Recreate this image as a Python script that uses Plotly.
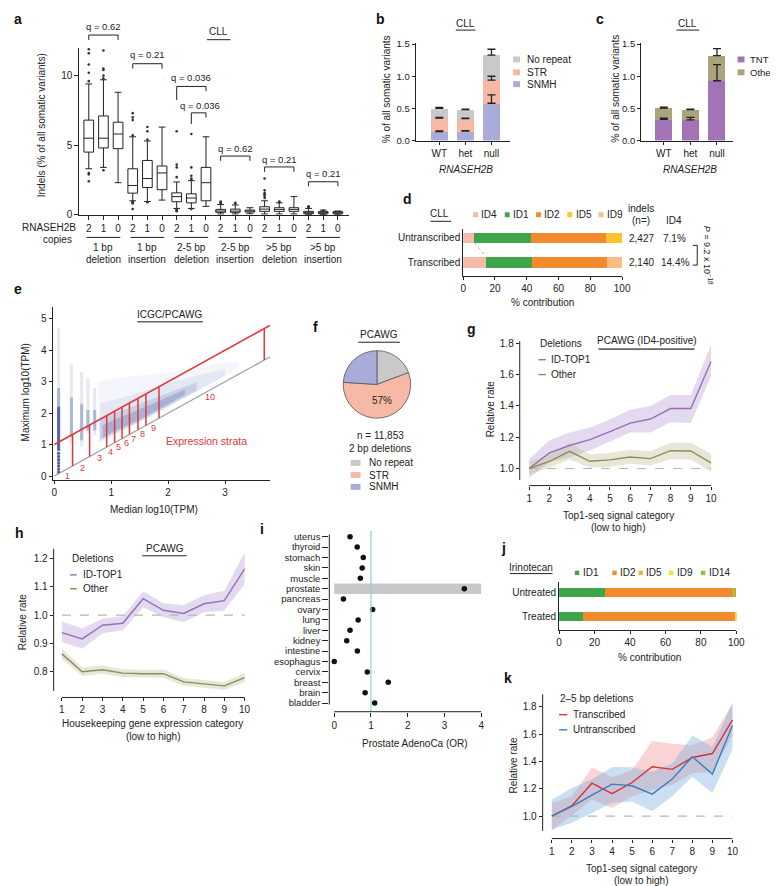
import plotly.graph_objects as go

W, H = 778, 886
FONT = "Liberation Sans, Arial, Helvetica, sans-serif"
INK = "#222222"

# ================= DATA =================
# (a) indel boxplots, CLL
a_copies = ["2", "1", "0"]
a_group_top = ["1 bp", "1 bp", "2-5 bp", "2-5 bp", "&gt;5 bp", "&gt;5 bp"]
a_group_bottom = ["deletion", "insertion", "deletion", "insertion", "deletion", "insertion"]
a_q1 = [4.5, 4.8, 4.75, 1.55, 1.95, 1.8, 0.93, 0.85, 1.0, 0.17, 0.17, 0.19, 0.24, 0.24, 0.24, 0.07, 0.07, 0.07]
a_median = [5.5, 5.5, 5.8, 2.1, 2.6, 3.0, 1.3, 1.2, 2.3, 0.26, 0.26, 0.26, 0.40, 0.38, 0.38, 0.14, 0.14, 0.14]
a_q3 = [6.8, 7.1, 6.65, 3.3, 3.9, 3.5, 1.57, 1.5, 3.4, 0.38, 0.40, 0.33, 0.57, 0.50, 0.50, 0.24, 0.22, 0.22]
a_lowerfence = [3.3, 3.4, 2.3, 1.0, 0.95, 1.05, 0.45, 0.45, 0.6, 0.05, 0.05, 0.07, 0.05, 0.05, 0.05, 0.01, 0.01, 0.02]
a_upperfence = [9.4, 9.7, 8.8, 5.6, 5.3, 6.3, 2.35, 2.45, 5.6, 0.73, 0.70, 0.50, 1.0, 0.85, 1.3, 0.45, 0.33, 0.26]
a_outlier_box = [0, 0, 0, 0, 0, 0, 0, 0,
                 1, 1, 1, 1, 1, 1,
                 3, 3, 3, 3, 3, 3, 3, 3, 3,
                 4, 4, 4, 4,
                 6, 6, 6, 6, 6, 6, 6, 6,
                 7, 7, 7, 7, 7, 7,
                 9, 9, 9, 10, 10,
                 12, 12, 12, 12, 12, 12, 13, 13,
                 15, 15, 15, 16]
a_outlier_val = [9.6, 10.2, 10.8, 11.6, 11.9, 3.0, 2.9, 2.4,
                 9.8, 10.0, 10.4, 10.5, 11.8, 3.2,
                 5.7, 6.8, 7.0, 7.3, 0.95, 0.9, 0.85, 0.8, 0.4,
                 5.4, 6.0, 6.3, 0.9,
                 2.7, 3.4, 3.6, 6.0, 0.4, 0.35, 0.3, 0.25,
                 2.5, 2.6, 2.8, 3.4, 5.8, 0.4,
                 0.8, 0.85, 0.95, 0.8, 0.85,
                 1.2, 1.35, 1.45, 1.55, 1.75, 2.6, 0.9, 0.95,
                 0.5, 0.55, 0.6, 0.3]
a_q_text = ["q = 0.62", "q = 0.21", "q = 0.036", "q = 0.036", "q = 0.62", "q = 0.21", "q = 0.21"]

# (b) repeat context, CLL
b_geno = ["WT", "het", "null"]
b_snmh = [0.14, 0.145, 0.58]
b_str = [0.21, 0.195, 0.36]
b_norep = [0.15, 0.14, 0.39]
b_snmh_err = [0.01, 0.01, 0.13]
b_str_err = [0.01, 0.01, 0.06]
b_norep_err = [0.015, 0.01, 0.09]

# (c) TNT, CLL
c_tnt = [0.33, 0.32, 0.93]
c_other = [0.175, 0.16, 0.39]
c_tnt_err = [0.02, 0.04, 0.25]
c_other_err = [0.015, 0.01, 0.11]

# (d) signature contributions, CLL
d_rows = ["Transcribed", "Untranscribed"]
d_sigs = ["ID4", "ID1", "ID2", "ID5", "ID9"]
d_untranscribed = [7.1, 35.5, 47.5, 9.9, 0.0]
d_transcribed = [14.4, 29.0, 47.1, 0.0, 9.5]
d_n = ["2,140", "2,427"]
d_id4 = ["14.4%", "7.1%"]

# (e) expression strata, ICGC/PCAWG  (hand-read outline of the point cloud)
e_streak_x = [0.075, 0.30, 0.48, 0.59, 0.71]
e_streak_lo = [0.05, 1.04, 0.93, 1.35, 1.30]
e_streak_hi = [4.70, 3.55, 3.30, 3.10, 2.80]
e_core_lo = [0.80, 1.25, 1.14, 1.45, 1.45]
e_core_hi = [2.80, 2.50, 2.30, 2.10, 2.10]
e_dots_y = [0.12, 0.22, 0.32, 0.42, 0.52, 0.62, 0.72]
e_halo_x = [0.78, 1.00, 1.50, 2.00, 2.50, 3.00, 3.25]
e_halo_lo = [1.05, 1.22, 1.70, 2.18, 2.68, 3.18, 3.48]
e_halo_hi = [3.00, 3.10, 3.20, 3.30, 3.45, 3.62, 3.62]
e_mid_x = [0.80, 1.00, 1.50, 2.00, 2.50, 3.00]
e_mid_lo = [1.10, 1.27, 1.72, 2.20, 2.70, 3.20]
e_mid_hi = [2.30, 2.40, 2.65, 2.95, 3.20, 3.40]
e_dense_x = [0.80, 1.00, 1.50, 2.00, 2.50]
e_dense_lo = [1.15, 1.32, 1.74, 2.22, 2.72]
e_dense_hi = [1.85, 1.95, 2.30, 2.65, 2.98]
e_core_x = [0.85, 1.00, 1.50, 2.00, 2.30]
e_corepoly_lo = [1.22, 1.38, 1.80, 2.28, 2.60]
e_corepoly_hi = [1.60, 1.75, 2.12, 2.50, 2.75]
e_diag_x = [0.0, 3.8]
e_bounds = [0.32, 0.62, 0.92, 1.06, 1.19, 1.32, 1.47, 1.61, 1.84, 3.69]
e_strata_x = [0.23, 0.49, 0.79, 0.99, 1.13, 1.27, 1.40, 1.55, 1.74, 2.73]
e_strata_lab = ["1", "2", "3", "4", "5", "6", "7", "8", "9", "10"]

# (f) pie, PCAWG
f_labels = ["No repeat", "STR", "SNMH"]
f_values = [19.3, 56.7, 24.0]

# (g) Top1-seq, PCAWG ID4-positive
cat_x = [1, 2, 3, 4, 5, 6, 7, 8, 9, 10]
g_top1 = [1.00, 1.10, 1.147, 1.185, 1.236, 1.29, 1.316, 1.383, 1.383, 1.684]
g_top1_lo = [0.94, 1.04, 1.07, 1.115, 1.17, 1.23, 1.23, 1.295, 1.29, 1.59]
g_top1_hi = [1.06, 1.18, 1.23, 1.26, 1.315, 1.375, 1.40, 1.47, 1.47, 1.79]
g_other = [1.00, 1.046, 1.11, 1.046, 1.055, 1.074, 1.063, 1.114, 1.112, 1.036]
g_other_lo = [0.96, 1.005, 1.06, 1.005, 1.01, 1.03, 1.02, 1.06, 1.058, 0.98]
g_other_hi = [1.04, 1.09, 1.165, 1.09, 1.10, 1.12, 1.11, 1.165, 1.165, 1.095]

# (h) housekeeping expression, PCAWG
h_top1 = [0.938, 0.916, 0.964, 0.971, 1.058, 1.017, 1.006, 1.040, 1.051, 1.163]
h_top1_lo = [0.905, 0.881, 0.936, 0.946, 1.028, 0.992, 0.975, 1.010, 1.016, 1.110]
h_top1_hi = [0.977, 0.953, 0.988, 0.996, 1.084, 1.042, 1.035, 1.070, 1.086, 1.221]
h_other = [0.863, 0.800, 0.807, 0.795, 0.793, 0.793, 0.764, 0.758, 0.750, 0.779]
h_other_lo = [0.845, 0.785, 0.793, 0.781, 0.779, 0.779, 0.750, 0.744, 0.736, 0.763]
h_other_hi = [0.881, 0.815, 0.822, 0.809, 0.807, 0.807, 0.778, 0.772, 0.764, 0.795]

# (i) odds ratios
i_tissues = ["uterus", "thyroid", "stomach", "skin", "muscle", "prostate", "pancreas", "ovary", "lung",
             "liver", "kidney", "intestine", "esophagus", "cervix", "breast", "brain", "bladder"]
i_or = [0.43, 0.625, 0.79, 0.76, 0.71, 3.54, 0.25, 1.045, 0.65, 0.43, 0.34, 0.63, 0.0, 0.90, 1.47, 0.84, 1.10]

# (j) irinotecan
j_rows = ["Treated", "Untreated"]
j_sigs = ["ID1", "ID2", "ID5", "ID9", "ID14"]
j_untreated = [25.9, 72.6, 0.4, 0.3, 0.8]
j_treated = [13.5, 85.9, 0.3, 0.2, 0.1]

# (k) 2-5 bp deletions
k_tx = [1.0, 1.077, 1.241, 1.164, 1.246, 1.361, 1.342, 1.429, 1.458, 1.704]
k_tx_lo = [0.899, 1.005, 1.12, 1.06, 1.145, 1.19, 1.23, 1.313, 1.325, 1.59]
k_tx_hi = [1.096, 1.145, 1.357, 1.284, 1.337, 1.55, 1.53, 1.518, 1.578, 1.82]
k_untx = [1.0, 1.072, 1.154, 1.234, 1.222, 1.161, 1.272, 1.434, 1.308, 1.663]
k_untx_lo = [0.90, 0.952, 1.024, 1.096, 1.108, 1.036, 1.145, 1.289, 1.169, 1.487]
k_untx_hi = [1.12, 1.205, 1.27, 1.36, 1.357, 1.325, 1.386, 1.59, 1.506, 1.83]

# ================= STYLE / HELPERS =================
C_NOREP, C_STR, C_SNMH = "#c9c9c9", "#f6b9a5", "#a9abd8"
C_TNT, C_OTHER = "#a274b6", "#a9a47c"
SIG_COL = {"ID4": "#f7b9a8", "ID1": "#3ea54a", "ID2": "#f28a2e", "ID5": "#fcc22f", "ID9": "#fbbd83"}
J_COL = {"ID1": "#3ea54a", "ID2": "#f28a2e", "ID5": "#f8b133", "ID9": "#f2e42a", "ID14": "#8cc63f"}
PURPLE, PURPLE_BAND = "#9471b6", "rgba(178,150,210,0.35)"
OLIVE, OLIVE_BAND = "#8f8a5e", "rgba(185,185,140,0.35)"
RED, RED_BAND = "#d8313c", "rgba(240,125,125,0.33)"
BLUE, BLUE_BAND = "#3b7ebf", "rgba(115,170,220,0.38)"
ERED = "#e0383d"

shapes, annotations = [], []
fig = go.Figure()


def P(xp):
    return xp / W


def Q(yp):
    return 1 - yp / H


def txt(x, y, s, size=10, xa="center", ya="middle", color=INK, angle=0, xref="paper", yref="paper"):
    annotations.append(dict(x=P(x) if xref == "paper" else x, y=Q(y) if yref == "paper" else y,
                            xref=xref, yref=yref, text=s, showarrow=False, textangle=angle,
                            font=dict(family=FONT, size=size, color=color), xanchor=xa, yanchor=ya))


def line(x0, y0, x1, y1, color=INK, width=1, dash="solid", xref="paper", yref="paper", layer="above"):
    shapes.append(dict(type="line", xref=xref, yref=yref, layer=layer,
                       x0=P(x0) if xref == "paper" else x0, x1=P(x1) if xref == "paper" else x1,
                       y0=Q(y0) if yref == "paper" else y0, y1=Q(y1) if yref == "paper" else y1,
                       line=dict(color=color, width=width, dash=dash)))


def rect(x0, y0, x1, y1, color):
    shapes.append(dict(type="rect", xref="paper", yref="paper", x0=P(x0), x1=P(x1), y0=Q(y1), y1=Q(y0),
                       fillcolor=color, line=dict(width=0)))


def leg_sq(x, y, w, h, color, label, tx, size=10):
    rect(x, y - h / 2, x + w, y + h / 2, color)
    txt(tx, y, label, size=size, xa="left")


def leg_line(x0, x1, y, color, label, tx):
    line(x0, y, x1, y, color=color, width=1.4)
    txt(tx, y, label, xa="left")


axes = {}


def setax(n, xdom, xr, ydom, yr, xkw=None, ykw=None):
    xk = "xaxis" if n == 1 else "xaxis%d" % n
    yk = "yaxis" if n == 1 else "yaxis%d" % n
    xid = "x" if n == 1 else "x%d" % n
    yid = "y" if n == 1 else "y%d" % n
    base = dict(showgrid=False, zeroline=False, showline=False, ticks="outside", ticklen=3, tickwidth=1,
                tickcolor=INK, linecolor=INK, linewidth=1, fixedrange=True,
                tickfont=dict(family=FONT, size=10, color=INK))
    xa = dict(base, domain=[P(xdom[0]), P(xdom[1])], range=xr, anchor=yid)
    ya = dict(base, domain=[Q(ydom[1]), Q(ydom[0])], range=yr, anchor=xid)
    xa.update(xkw or {})
    ya.update(ykw or {})
    axes[xk] = xa
    axes[yk] = ya
    return xid, yid


def band(xs, lo, hi, color, xid, yid):
    fig.add_trace(go.Scatter(x=xs + xs[::-1], y=hi + lo[::-1], fill="toself", fillcolor=color,
                             line=dict(width=0), mode="lines", xaxis=xid, yaxis=yid, hoverinfo="skip"))


def curve(xs, ys, color, xid, yid, width=1.4, dash="solid"):
    fig.add_trace(go.Scatter(x=xs, y=ys, mode="lines", line=dict(color=color, width=width, dash=dash),
                             xaxis=xid, yaxis=yid, hoverinfo="skip"))


def letter(x, y, s):
    txt(x, y, "<b>%s</b>" % s, size=14, xa="left", color="#111")


# ================= PANEL a =================
xa_, ya_ = setax(1, (69.5, 343), [-0.638, 17.74], (36.2, 205), [0, 12],
                 xkw=dict(showline=True, tickvals=list(range(18)), ticktext=a_copies * 6, ticklen=4),
                 ykw=dict(showline=True, tickvals=[0, 5, 10], ticklen=4))
fig.add_trace(go.Box(x=list(range(18)), q1=a_q1, median=a_median, q3=a_q3, lowerfence=a_lowerfence,
                     upperfence=a_upperfence, width=0.66, whiskerwidth=0.7, boxpoints=False,
                     fillcolor="white", line=dict(color=INK, width=1), xaxis=xa_, yaxis=ya_, hoverinfo="skip"))
fig.add_trace(go.Scatter(x=a_outlier_box, y=a_outlier_val, mode="markers",
                         marker=dict(size=2.6, color="#333"), xaxis=xa_, yaxis=ya_, hoverinfo="skip"))
letter(1, 7, "a")
txt(31, 115, "Indels (% of all somatic variants)", angle=-90)
txt(211, 20, "CLL")
line(199, 28, 223, 28)
brackets = [(0, 2, 23.3, 28.3, 28.3, 1.0, 15.0),
            (3, 5, 52.3, 57.3, 57.3, 4.0, 43.3),
            (6, 8, 75.3, 89.0, 80.0, 7.0, 66.7),
            (7, 8, 102.0, 113.3, 106.7, 7.6, 94.3),
            (9, 11, 145.7, 150.5, 150.5, 10.0, 137.7),
            (12, 14, 156.7, 161.7, 161.7, 13.0, 149.0),
            (15, 17, 171.7, 176.2, 176.2, 16.0, 163.7)]
for (xl, xrt, yb, yl, yr_, tx, ty), qs in zip(brackets, a_q_text):
    line(xl, yb, xrt, yb, xref="x")
    line(xl, yb, xl, yl, xref="x")
    line(xrt, yb, xrt, yr_, xref="x")
    txt(tx, ty, qs, size=9.5, xref="x")
txt(68, 218, "RNASEH2B", xa="right")
txt(64, 230.5, "copies", xa="right")
for g in range(6):
    line(3 * g - 0.15, 228, 3 * g + 2.15, 228, xref="x")
    txt(3 * g + 1, 238.5, a_group_top[g], xref="x")
    txt(3 * g + 1, 250, a_group_bottom[g], xref="x")

# ================= PANEL b =================
tf95 = dict(family=FONT, size=9.5, color=INK)
xb, yb_ = setax(2, (411, 507), [-0.906, 2.717], (31, 130), [0, 1.523],
                xkw=dict(showline=True, tickvals=[0, 1, 2], ticktext=b_geno),
                ykw=dict(showline=True, tickvals=[0, 0.5, 1.0, 1.5], ticktext=["0.0", "0.5", "1.0", "1.5"],
                         tickfont=tf95))
cum = [0.0, 0.0, 0.0]
err_tops, err_vals = [], []
for vals, errs, col in [(b_snmh, b_snmh_err, C_SNMH), (b_str, b_str_err, C_STR), (b_norep, b_norep_err, C_NOREP)]:
    fig.add_trace(go.Bar(x=[0, 1, 2], y=vals, width=0.64, marker=dict(color=col, line=dict(width=0)),
                         xaxis=xb, yaxis=yb_, hoverinfo="skip"))
    cum = [c + v for c, v in zip(cum, vals)]
    err_tops.append(list(cum))
    err_vals.append(errs)
for tops, errs in zip(err_tops, err_vals):
    fig.add_trace(go.Scatter(x=[0, 1, 2], y=tops, mode="markers", marker=dict(size=1, color="rgba(0,0,0,0)"),
                             error_y=dict(type="data", array=errs, arrayminus=[0, 0, 0], symmetric=False,
                                          color=INK, thickness=1.3, width=4),
                             xaxis=xb, yaxis=yb_, hoverinfo="skip"))
letter(369, 7, "b")
txt(462, 11.7, "CLL")
line(451.7, 18.3, 471.7, 18.3)
txt(381, 78, "% of all somatic variants", angle=-90)
txt(462, 159, "<i>RNASEH2B</i>")
for lab, col, yy in [("No repeat", C_NOREP, 48), ("STR", C_STR, 61), ("SNMH", C_SNMH, 73)]:
    leg_sq(510, yy, 7, 6, col, lab, 522)

# ================= PANEL c =================
xc, yc = setax(3, (640, 733), [-0.85, 2.59], (31, 130), [0, 1.523],
               xkw=dict(showline=True, tickvals=[0, 1, 2], ticktext=b_geno),
               ykw=dict(showline=True, tickvals=[0, 0.5, 1.0, 1.5], ticktext=["0.0", "0.5", "1.0", "1.5"],
                        tickfont=tf95))
cum = [0.0, 0.0, 0.0]
err_tops, err_vals = [], []
for vals, errs, col in [(c_tnt, c_tnt_err, C_TNT), (c_other, c_other_err, C_OTHER)]:
    fig.add_trace(go.Bar(x=[0, 1, 2], y=vals, width=0.64, marker=dict(color=col, line=dict(width=0)),
                         xaxis=xc, yaxis=yc, hoverinfo="skip"))
    cum = [c + v for c, v in zip(cum, vals)]
    err_tops.append(list(cum))
    err_vals.append(errs)
for tops, errs in zip(err_tops, err_vals):
    fig.add_trace(go.Scatter(x=[0, 1, 2], y=tops, mode="markers", marker=dict(size=1, color="rgba(0,0,0,0)"),
                             error_y=dict(type="data", array=errs, arrayminus=[0, 0, 0], symmetric=False,
                                          color=INK, thickness=1.3, width=4),
                             xaxis=xc, yaxis=yc, hoverinfo="skip"))
letter(592, 7, "c")
txt(687, 11.7, "CLL")
line(676, 18.3, 699, 18.3)
txt(614, 78, "% of all somatic variants", angle=-90)
txt(690, 159, "<i>RNASEH2B</i>")
for lab, col, yy in [("TNT", C_TNT, 48), ("Other", C_OTHER, 61)]:
    leg_sq(738, yy, 7, 6, col, lab, 748.5, size=9.5)

# ================= PANEL d =================
xd, yd = setax(4, (459.3, 620.7), [0, 100], (219, 266.7), [-0.548, 1.36],
               xkw=dict(showline=True, tickvals=[0, 20, 40, 60, 80, 100]),
               ykw=dict(showline=True, ticks="", tickvals=[0, 1], ticktext=d_rows))
for s, vu, vt in zip(d_sigs, d_untranscribed, d_transcribed):
    fig.add_trace(go.Bar(y=[1, 0], x=[vu, vt], orientation="h", width=0.42,
                         marker=dict(color=SIG_COL[s], line=dict(width=0)), xaxis=xd, yaxis=yd, hoverinfo="skip"))
line(d_untranscribed[0], 0.79, d_transcribed[0], 0.21, color="#e49a8a", width=1, dash="dot", xref=xd, yref=yd)
letter(396, 189, "d")
txt(435, 203.3, "CLL")
line(426, 211.7, 447, 211.7)
for s, sx in zip(d_sigs, [469.3, 501.5, 533.3, 565.0, 596.7]):
    leg_sq(sx, 205, 5, 5, SIG_COL[s], s, sx + 6.5)
txt(640, 198.3, "indels")
txt(640, 210.5, "(n=)")
txt(673.3, 210.5, "ID4")
for row_y, n_, p_ in zip([253.3, 229], d_n, d_id4):
    txt(640, row_y, n_)
    txt(674, row_y, p_)
line(697, 236, 697, 256)
line(692.5, 236, 697, 236)
line(692.5, 256, 697, 256)
txt(707.5, 246, "<i>P</i> = 9.2 x 10<sup>−18</sup>", size=9, angle=90)
txt(540, 294, "% contribution")

# ================= PANEL e =================
xe, ye = setax(5, (42.3, 263), [-0.03, 3.79], (298.3, 473.3), [-0.126, 5.38],
               xkw=dict(showline=True, tickvals=[0, 1, 2, 3]),
               ykw=dict(showline=True, tickvals=[0, 1, 2, 3, 4, 5]))
band(e_halo_x, e_halo_lo, e_halo_hi, "rgba(150,165,212,0.10)", xe, ye)
band(e_mid_x, e_mid_lo, e_mid_hi, "rgba(125,142,198,0.13)", xe, ye)
band(e_dense_x, e_dense_lo, e_dense_hi, "rgba(95,115,172,0.20)", xe, ye)
band(e_core_x, e_corepoly_lo, e_corepoly_hi, "rgba(70,90,155,0.26)", xe, ye)
for sx, lo, hi, clo, chi in zip(e_streak_x, e_streak_lo, e_streak_hi, e_core_lo, e_core_hi):
    curve([sx, sx], [lo, hi], "rgba(135,152,202,0.22)", xe, ye, width=3)
    curve([sx, sx], [clo, chi], "rgba(85,105,165,0.40)", xe, ye, width=3)
curve([e_streak_x[0]] * 2, [e_core_lo[0], e_core_hi[0] - 0.6], "rgba(50,70,140,0.70)", xe, ye, width=3)
fig.add_trace(go.Scatter(x=[e_streak_x[0]] * len(e_dots_y), y=e_dots_y, mode="markers",
                         marker=dict(size=3.2, color="rgba(50,70,140,0.85)"), xaxis=xe, yaxis=ye, hoverinfo="skip"))
curve(e_diag_x, [v for v in e_diag_x], "#9a9a9a", xe, ye, width=1.2)
curve(e_diag_x, [v + 1 for v in e_diag_x], ERED, xe, ye, width=1.6)
vx, vy = [], []
for b in e_bounds:
    vx += [b, b, None]
    vy += [b, b + 1, None]
fig.add_trace(go.Scatter(x=vx, y=vy, mode="lines", line=dict(color=ERED, width=1.5), xaxis=xe, yaxis=ye,
                         hoverinfo="skip", connectgaps=False))
for sx, lab in zip(e_strata_x, e_strata_lab):
    txt(sx, sx - 0.22, lab, size=9, color=ERED, xref=xe, yref=ye)
txt(2.68, 1.12, "Expression strata", size=10.5, color=ERED, xref=xe, yref=ye)
letter(1, 280, "e")
txt(161, 305.7, "ICGC/PCAWG")
line(128.3, 313.3, 195, 313.3, color="#666", width=1.6)
txt(15, 385, "Maximum log10(TPM)", angle=-90)
txt(145, 503, "Median log10(TPM)")

# ================= PANEL f =================
fig.add_trace(go.Pie(labels=f_labels, values=f_values, sort=False, direction="clockwise", rotation=0,
                     textinfo="none", hoverinfo="skip", showlegend=False,
                     marker=dict(colors=[C_NOREP, C_STR, C_SNMH], line=dict(color="#555", width=0.8)),
                     domain=dict(x=[P(337.4), P(406.0)], y=[Q(411.0), Q(342.4)])))
letter(305, 319, "f")
txt(373.3, 325.7, "PCAWG")
line(352.7, 334, 395, 334)
txt(376.7, 393.3, "57%")
txt(375, 428.7, "n = 11,853")
txt(375, 441, "2 bp deletions")
for lab, col, yy in zip(f_labels, [C_NOREP, C_STR, C_SNMH], [456, 468.3, 480.3]):
    leg_sq(345, yy, 10, 6, col, lab, 361.7)

# ================= PANEL g =================
xg, yg = setax(6, (516.7, 712), [0.532, 10.05], (333, 479), [0.891, 1.813],
               xkw=dict(tickvals=cat_x),
               ykw=dict(tickvals=[1.0, 1.2, 1.4, 1.6, 1.8], ticktext=["1.0", "1.2", "1.4", "1.6", "1.8"]))
band(cat_x, g_top1_lo, g_top1_hi, PURPLE_BAND, xg, yg)
band(cat_x, g_other_lo, g_other_hi, OLIVE_BAND, xg, yg)
curve([cat_x[0], cat_x[-1]], [1, 1], "#b5b5b5", xg, yg, width=1.1, dash="dash")
curve(cat_x, g_top1, PURPLE, xg, yg)
curve(cat_x, g_other, OLIVE, xg, yg)
line(516.7, 333, 516.7, 473.3)
line(1, 479, 10, 479, xref=xg)
letter(461, 321, "g")
txt(535, 335, "Deletions", xa="left")
leg_line(535.7, 543.3, 351.7, PURPLE, "ID-TOP1", 546.7)
leg_line(535.7, 543.3, 366.7, OLIVE, "Other", 546.7)
txt(645.7, 332.3, "PCAWG (ID4-positive)")
line(596.7, 341, 694.3, 341, color="#666", width=1.6)
txt(486.7, 401.7, "Relative rate", angle=-90)
txt(616.7, 509.3, "Top1-seq signal category")
txt(616.7, 521.7, "(low to high)")

# ================= PANEL h =================
xh, yh = setax(7, (43.3, 238), [0.593, 10.035], (543, 693.3), [0.709, 1.234],
               xkw=dict(tickvals=cat_x),
               ykw=dict(tickvals=[0.8, 0.9, 1.0, 1.1, 1.2], ticktext=["0.8", "0.9", "1.0", "1.1", "1.2"]))
band(cat_x, h_top1_lo, h_top1_hi, PURPLE_BAND, xh, yh)
band(cat_x, h_other_lo, h_other_hi, OLIVE_BAND, xh, yh)
curve([cat_x[0], cat_x[-1]], [1, 1], "#b5b5b5", xh, yh, width=1.1, dash="dash")
curve(cat_x, h_top1, PURPLE, xh, yh)
curve(cat_x, h_other, OLIVE, xh, yh)
line(43.3, 543, 43.3, 686.7)
line(1, 693.3, 10, 693.3, xref=xh)
letter(2, 527, "h")
txt(60, 552.7, "Deletions", xa="left")
leg_line(60, 66.7, 569.3, PURPLE, "ID-TOP1", 70.7)
leg_line(60, 66.7, 583.3, OLIVE, "Other", 70.7)
txt(156, 542.7, "PCAWG")
line(133.3, 550, 178.3, 550)
txt(11.7, 616.7, "Relative rate", angle=-90)
txt(144, 720, "Housekeeping gene expression category")
txt(144, 732.5, "(low to high)")

# ================= PANEL i =================
n_t = len(i_tissues)
i_y = [n_t - 1 - k for k in range(n_t)]
xi, yi = setax(8, (323.3, 478), [-0.134, 4.01], (525, 707.7), [-0.827, 16.54],
               xkw=dict(tickvals=[0, 1, 2, 3, 4], ticklen=4),
               ykw=dict(tickvals=i_y, ticktext=i_tissues, ticklen=6, tickfont=dict(family=FONT, size=9.5, color=INK)))
prost = i_y[i_tissues.index("prostate")]
shapes.append(dict(type="rect", xref=xi, yref=yi, x0=0, x1=4, y0=prost - 0.5, y1=prost + 0.5,
                   fillcolor="#c8c8c8", line=dict(width=0), layer="below"))
line(1, 525, 1, 707.7, color="#8fd2de", width=1.3, xref=xi)
fig.add_trace(go.Scatter(x=i_or, y=i_y, mode="markers", marker=dict(size=5.5, color="#111"),
                         xaxis=xi, yaxis=yi, hoverinfo="skip"))
line(323.3, 528.3, 323.3, 700.5)
line(0, 707.7, 4, 707.7, xref=xi)
letter(251, 523, "i")
txt(410, 740, "Prostate AdenoCa (OR)")

# ================= PANEL j =================
xj, yj = setax(9, (556.7, 736.7), [0, 100], (576.7, 625), [-0.545, 1.43],
               xkw=dict(showline=True, tickvals=[0, 20, 40, 60, 80, 100]),
               ykw=dict(showline=True, ticks="", tickvals=[0, 1], ticktext=j_rows))
for s, vu, vt in zip(j_sigs, j_untreated, j_treated):
    fig.add_trace(go.Bar(y=[1, 0], x=[vu, vt], orientation="h", width=0.34,
                         marker=dict(color=J_COL[s], line=dict(width=0)), xaxis=xj, yaxis=yj, hoverinfo="skip"))
letter(496, 542, "j")
txt(528.3, 561.5, "Irinotecan")
line(506.7, 568, 550, 568)
for s, sx in zip(j_sigs, [572.7, 610.7, 637.3, 668.3, 700.7]):
    leg_sq(sx, 567.3, 4.5, 4.5, J_COL[s], s, sx + 6)
txt(648.3, 653.3, "% contribution")

# ================= PANEL k =================
xk, yk = setax(10, (540, 734), [0.544, 10.06], (690, 836), [0.836, 1.892],
               xkw=dict(tickvals=cat_x),
               ykw=dict(tickvals=[1.0, 1.2, 1.4, 1.6, 1.8], ticktext=["1.0", "1.2", "1.4", "1.6", "1.8"]))
band(cat_x, k_tx_lo, k_tx_hi, RED_BAND, xk, yk)
band(cat_x, k_untx_lo, k_untx_hi, BLUE_BAND, xk, yk)
curve([cat_x[0], cat_x[-1]], [1, 1], "#b5b5b5", xk, yk, width=1.1, dash="dash")
curve(cat_x, k_tx, RED, xk, yk)
curve(cat_x, k_untx, BLUE, xk, yk)
line(540, 690, 540, 828.3)
line(1, 836, 10, 836, xref=xk)
letter(499, 673.3, "k")
txt(556, 694, "2–5 bp deletions", xa="left")
leg_line(556.7, 565, 710.7, RED, "Transcribed", 568.3)
leg_line(556.7, 565, 726, BLUE, "Untranscribed", 568.3)
txt(510, 762, "Relative rate", angle=-90)
txt(640, 866.5, "Top1-seq signal category")
txt(640, 878, "(low to high)")

fig.update_layout(width=W, height=H, margin=dict(l=0, r=0, t=0, b=0, pad=0), autosize=False,
                  paper_bgcolor="white", plot_bgcolor="rgba(0,0,0,0)", showlegend=False,
                  barmode="stack", bargap=0, font=dict(family=FONT, size=10, color=INK),
                  shapes=shapes, annotations=annotations, **axes)
fig.write_html("out.html")
